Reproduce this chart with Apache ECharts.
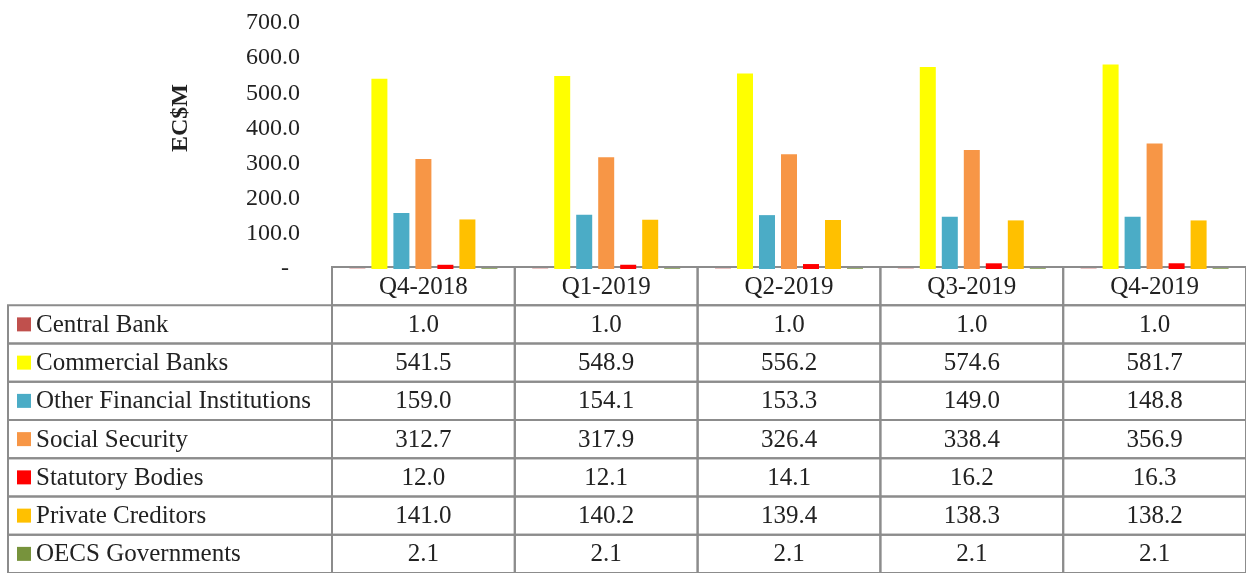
<!DOCTYPE html>
<html>
<head>
<meta charset="utf-8">
<script src="https://cdn.jsdelivr.net/npm/echarts@6/dist/echarts.min.js"></script>
<style>
  html, body { margin: 0; padding: 0; background: #fff; }
  #chart { width: 1246px; height: 573px; }
</style>
</head>
<body>
<div id="chart"></div>
<script>
// data
var quarters = ["Q4-2018", "Q1-2019", "Q2-2019", "Q3-2019", "Q4-2019"];
var seriesNames = ["Central Bank", "Commercial Banks", "Other Financial Institutions",
  "Social Security", "Statutory Bodies", "Private Creditors", "OECS Governments"];
var centralBank = [1.0, 1.0, 1.0, 1.0, 1.0];
var commercialBanks = [541.5, 548.9, 556.2, 574.6, 581.7];
var otherFinancial = [159.0, 154.1, 153.3, 149.0, 148.8];
var socialSecurity = [312.7, 317.9, 326.4, 338.4, 356.9];
var statutoryBodies = [12.0, 12.1, 14.1, 16.2, 16.3];
var privateCreditors = [141.0, 140.2, 139.4, 138.3, 138.2];
var oecsGovernments = [2.1, 2.1, 2.1, 2.1, 2.1];
var colors = ["#C0504D", "#FFFF00", "#4BACC6", "#F79646", "#FF0000", "#FFC000", "#77933C"];

var allValues = [centralBank, commercialBanks, otherFinancial, socialSecurity,
  statutoryBodies, privateCreditors, oecsGovernments];

var FONT = "Liberation Serif";
var borderColor = "#8c8c8c";
var cellFont = "25px '" + FONT + "'";

var chart = echarts.init(document.getElementById("chart"));

// table cells: row 0 = header, rows 1..7 = series
var tableRows = ["header"].concat(seriesNames);
var cells = [];
for (var r = 0; r < tableRows.length; r++) {
  for (var c = 0; c < quarters.length; c++) {
    cells.push([c, r]);
  }
}

var barSeries = seriesNames.map(function (name, i) {
  return {
    name: name,
    type: "bar",
    xAxisIndex: 0,
    yAxisIndex: 0,
    barWidth: 16,
    barGap: "37.5%",
    itemStyle: { color: colors[i] },
    data: allValues[i]
  };
});

chart.setOption({
  animation: false,
  textStyle: { fontFamily: FONT },
  grid: [
    { left: 332, right: -2, top: 23, height: 246 },
    { left: 332, right: -2, top: 267, height: 39 * tableRows.length }
  ],
  xAxis: [
    {
      gridIndex: 0, type: "category", data: quarters,
      axisLine: { show: false }, axisTick: { show: false }, axisLabel: { show: false }
    },
    {
      gridIndex: 1, type: "category", data: quarters,
      axisLine: { show: false }, axisTick: { show: false }, axisLabel: { show: false }
    }
  ],
  yAxis: [
    {
      gridIndex: 0, type: "value", min: 0, max: 700, interval: 100,
      axisLine: { show: false }, axisTick: { show: false }, splitLine: { show: false },
      axisLabel: {
        margin: 32, fontSize: 24, color: "#222", fontFamily: FONT,
        formatter: function (v) { return v === 0 ? "{dash|-}" : v.toFixed(1); },
        rich: { dash: { fontSize: 24, fontFamily: FONT, color: "#222", padding: [0, 11, 0, 0] } }
      }
    },
    {
      gridIndex: 1, type: "category", data: tableRows, inverse: true,
      axisLine: { show: false }, axisTick: { show: false }, axisLabel: { show: false }
    }
  ],
  graphic: [
    {
      type: "text", x: 181, y: 118, rotation: Math.PI / 2,
      style: {
        text: "EC$M", font: "bold 24px '" + FONT + "'", fill: "#222",
        align: "center", verticalAlign: "middle"
      }
    }
  ],
  series: barSeries.concat([
    {
      type: "custom",
      xAxisIndex: 1,
      yAxisIndex: 1,
      clip: false,
      data: cells,
      renderItem: function (params, api) {
        var c = api.value(0), r = api.value(1);
        var pt = api.coord([c, r]);
        var sz = api.size([1, 1]);
        var x0 = pt[0] - sz[0] / 2, y0 = pt[1] - sz[1] / 2;
        var text = r === 0 ? quarters[c] : allValues[r - 1][c].toFixed(1);
        var children = [
          {
            type: "rect",
            shape: { x: x0, y: y0, width: sz[0], height: sz[1] },
            style: { fill: null, stroke: borderColor, lineWidth: 2 }
          },
          {
            type: "text",
            style: {
              text: text, x: pt[0], y: pt[1] + 1, align: "center", verticalAlign: "middle",
              font: cellFont, fill: "#222"
            }
          }
        ];
        if (c === 0 && r > 0) {
          var lx = params.coordSys.x - 324;
          children.push({
            type: "rect",
            shape: { x: lx, y: y0, width: 324, height: sz[1] },
            style: { fill: null, stroke: borderColor, lineWidth: 2 }
          });
          children.push({
            type: "rect",
            shape: { x: lx + 9, y: pt[1] - 7, width: 14, height: 14 },
            style: { fill: colors[r - 1] }
          });
          children.push({
            type: "text",
            style: {
              text: seriesNames[r - 1], x: lx + 28, y: pt[1] + 1, align: "left",
              verticalAlign: "middle", font: cellFont, fill: "#222"
            }
          });
        }
        return { type: "group", children: children };
      }
    }
  ])
});
</script>
</body>
</html>
